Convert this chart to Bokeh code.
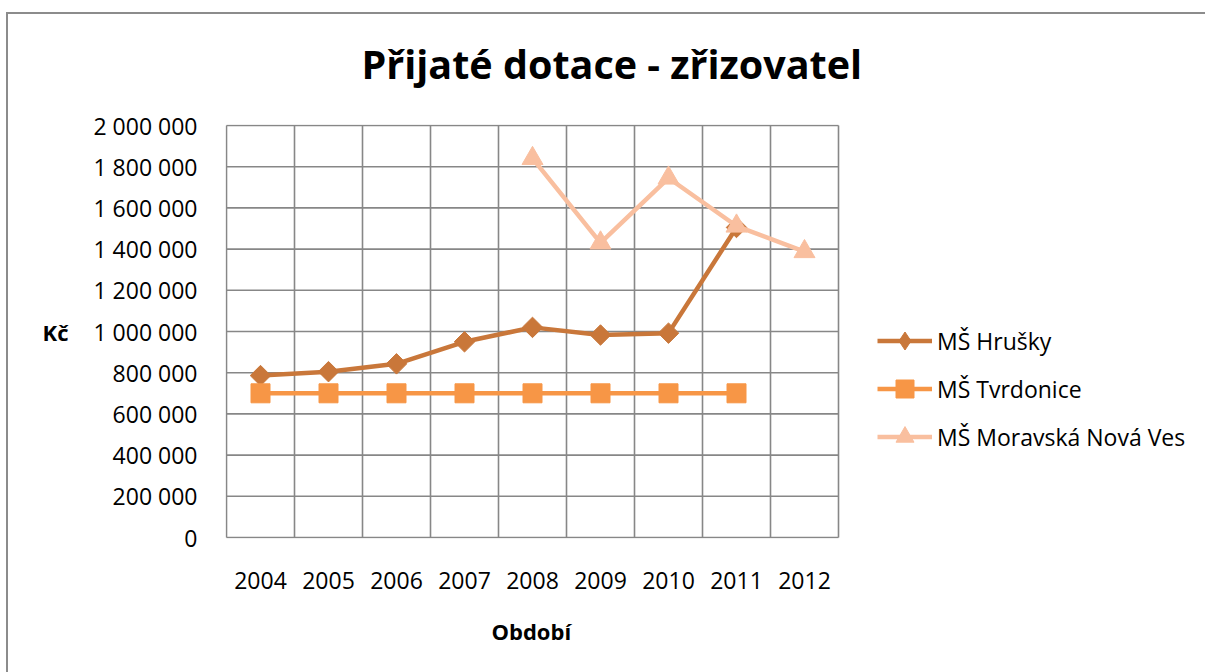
import numpy as np
from bokeh.plotting import figure
from bokeh.models import FixedTicker, Legend, LegendItem, Title
from bokeh.embed import file_html
from bokeh.resources import INLINE

# ---- data ----
years = [2004, 2005, 2006, 2007, 2008, 2009, 2010, 2011, 2012]
hrusky = [786000, 805000, 843000, 950000, 1020000, 983000, 992000, 1505000, np.nan]
tvrdonice = [700000, 700000, 700000, 700000, 700000, 700000, 700000, 700000, np.nan]
moravska = [np.nan, np.nan, np.nan, np.nan, 1840000, 1430000, 1745000, 1512000, 1388000]
series_names = ["MŠ Hrušky", "MŠ Tvrdonice", "MŠ Moravská Nová Ves"]
y_ticks = [0, 200000, 400000, 600000, 800000, 1000000, 1200000, 1400000, 1600000, 1800000, 2000000]
y_tick_labels = ["0", "200 000", "400 000", "600 000", "800 000", "1 000 000",
                 "1 200 000", "1 400 000", "1 600 000", "1 800 000", "2 000 000"]
title_text = "Přijaté dotace - zřizovatel"
x_title = "Období"
y_title = "Kč"

FONT = "Open Sans"
GRID = "#878787"
C_HR = "#C9773A"
C_TV = "#F79646"
C_MO = "#F9BF9F"

# layout geometry (pixels)
W, H = 1205, 672
LEFT, TOP, BOTTOM = 225, 124, 134
PX_PER_YEAR = 68.0
PX_PER_KC = 412.0 / 2000000

x_lo, x_hi = years[0] - 0.5, years[-1] + 0.5
y_lo, y_hi = y_ticks[0], y_ticks[-1]
x_start = x_lo - 1.0 / PX_PER_YEAR
x_end = x_start + (W - LEFT) / PX_PER_YEAR
y_start = y_lo - 1.0 / PX_PER_KC
y_end = y_hi + 1.0 / PX_PER_KC

p = figure(width=W, height=H, output_backend="svg", toolbar_location=None,
           x_range=(x_start, x_end), y_range=(y_start, y_end),
           min_border_left=LEFT, min_border_right=0, min_border_top=TOP, min_border_bottom=BOTTOM)
p.background_fill_color = "white"
p.border_fill_alpha = 0
p.outline_line_color = None
p.styles = {
    "background": "linear-gradient(#8C8C8C, #8C8C8C) 7px 12px / 1400px 2px no-repeat, "
                  "linear-gradient(#8C8C8C, #8C8C8C) 6px 12px / 2px 800px no-repeat, white",
}

# title
p.title.text = title_text
p.title.align = "left"
p.title.offset = 136
p.title.text_font = FONT
p.title.text_font_style = "bold"
p.title.text_font_size = "39.5px"
p.title.text_color = "black"
p.title.standoff = 67

# grid lines (bounded to the plot area)
p.xgrid.grid_line_color = None
p.ygrid.grid_line_color = None
bounds_x = [y - 0.5 for y in years] + [years[-1] + 0.5]
p.segment(x0=bounds_x, y0=[y_lo] * len(bounds_x), x1=bounds_x, y1=[y_hi] * len(bounds_x),
          line_color=GRID, line_width=1.6)
p.segment(x0=[x_lo] * len(y_ticks), y0=y_ticks, x1=[x_hi] * len(y_ticks), y1=y_ticks,
          line_color=GRID, line_width=1.6)

# axes
for ax in (p.xaxis[0], p.yaxis[0]):
    ax.axis_line_color = None
    ax.major_tick_line_color = None
    ax.minor_tick_line_color = None
    ax.major_label_text_font = FONT
    ax.major_label_text_font_size = "23px"
    ax.major_label_text_color = "black"
    ax.axis_label_text_font = FONT
    ax.axis_label_text_font_style = "bold"
    ax.axis_label_text_font_size = "22px"
    ax.axis_label_text_color = "black"

p.xaxis.ticker = FixedTicker(ticks=years)
p.xaxis.bounds = (x_lo, x_hi)
p.xaxis.major_label_overrides = {y: str(y) for y in years}
p.xaxis.major_label_standoff = 27

# x-axis title, centred under the plot area
x_label = Title(text=x_title, align="left", offset=266, vertical_align="top",
                text_font=FONT, text_font_style="bold", text_font_size="22px",
                text_color="black", standoff=48)
p.add_layout(x_label, "below")

p.yaxis.ticker = FixedTicker(ticks=y_ticks)
p.yaxis.major_label_overrides = {t: l for t, l in zip(y_ticks, y_tick_labels)}
p.yaxis.major_label_standoff = 22
p.yaxis.axis_label = y_title
p.yaxis.axis_label_orientation = "horizontal"
p.yaxis.axis_label_standoff = 22

# series
l1 = p.line(years, hrusky, line_color=C_HR, line_width=4.5)
p.scatter(years, hrusky, marker="square", angle=np.pi / 4, size=14.5,
          fill_color=C_HR, line_color=C_HR)
l2 = p.line(years, tvrdonice, line_color=C_TV, line_width=4.5)
s2 = p.scatter(years, tvrdonice, marker="square", size=19, fill_color=C_TV, line_color=C_TV)
l3 = p.line(years, moravska, line_color=C_MO, line_width=4.5)
s3 = p.scatter(years, moravska, marker="triangle", size=21, fill_color=C_MO, line_color=C_MO)
# legend-only diamond (legend glyphs ignore marker angle); hidden in the plot
k1 = p.scatter(years, hrusky, marker="diamond", size=20, fill_color=C_HR, line_color=C_HR,
               visible=False)

legend = Legend(items=[LegendItem(label=series_names[0], renderers=[l1, k1]),
                       LegendItem(label=series_names[1], renderers=[l2, s2]),
                       LegendItem(label=series_names[2], renderers=[l3, s3])],
                location=(652, 79))
legend.padding = 0
legend.margin = 0
legend.border_line_color = None
legend.background_fill_alpha = 0
legend.glyph_width = 55
legend.glyph_height = 45
legend.label_height = 26
legend.label_standoff = 5
legend.spacing = 3
legend.label_text_font = FONT
legend.label_text_font_size = "23px"
legend.label_text_color = "black"
p.add_layout(legend, "center")

open("out.html", "w").write(file_html(p, INLINE))
